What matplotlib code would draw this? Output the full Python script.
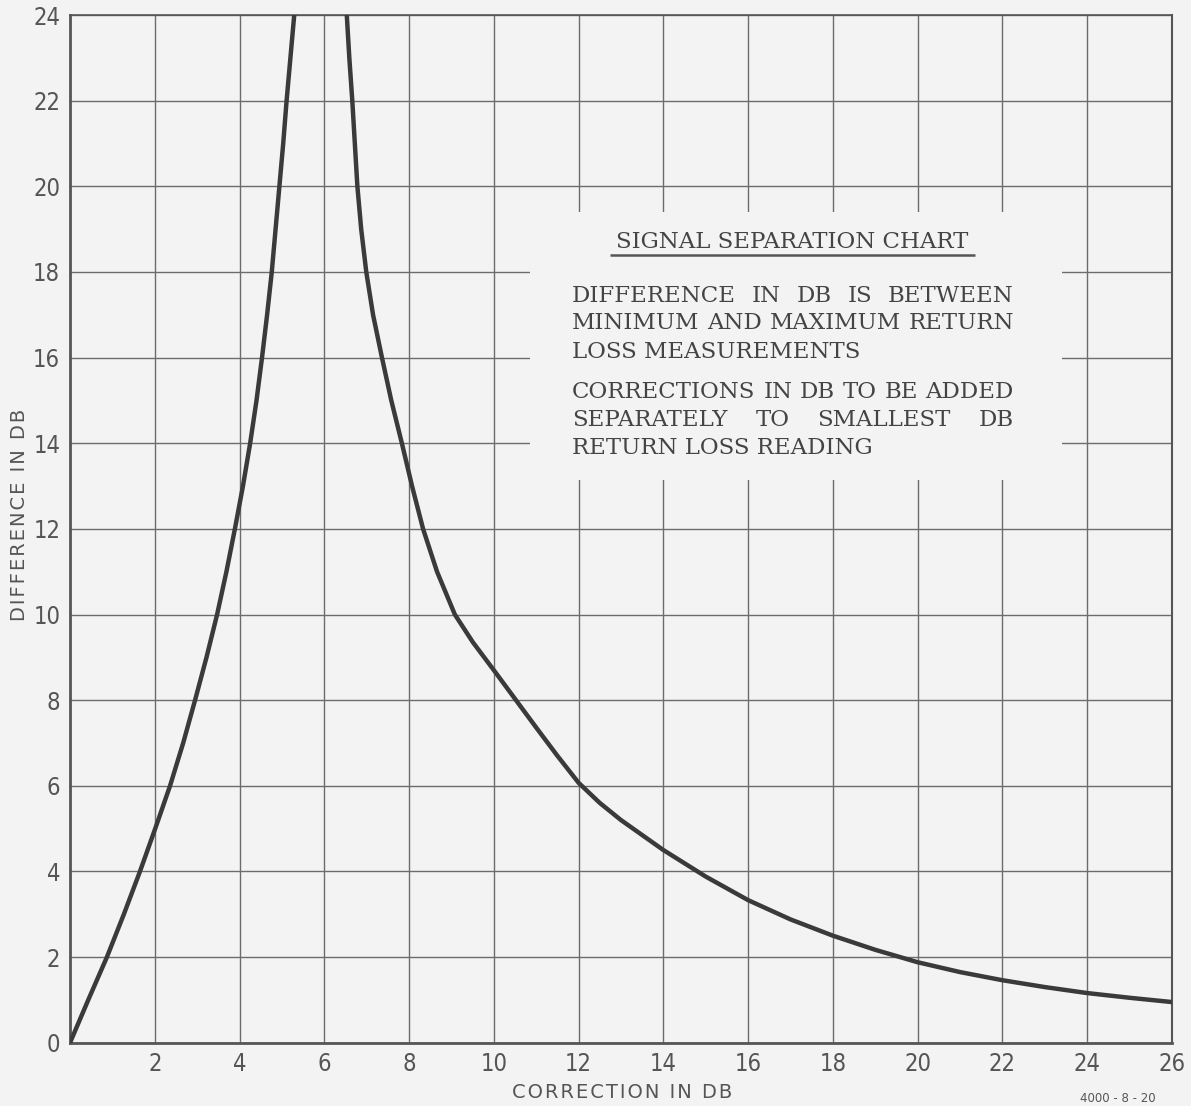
"""
Signal separation chart
Difference between min / max return loss vs correction in dB
"""

import matplotlib
matplotlib.use('Agg')
import matplotlib.pyplot as plt
from matplotlib.patches import Rectangle

# values (correction dB, difference dB)
larger_corr = [0.0, 0.43, 0.87, 1.27, 1.65, 2.01, 2.36, 2.67, 2.95, 3.22, 3.47, 3.69, 3.89,
               4.08, 4.25, 4.40, 4.53, 4.65, 4.76, 4.85, 4.94, 5.03, 5.11, 5.20, 5.29]
larger_diff = [0.0, 1.0, 2.0, 3.0, 4.0, 5.0, 6.0, 7.0, 8.0, 9.0, 10.0, 11.0, 12.0,
               13.0, 14.0, 15.0, 16.0, 17.0, 18.0, 19.0, 20.0, 21.0, 22.0, 23.0, 24.0]

smaller_corr = [6.53, 6.59, 6.66, 6.72, 6.78, 6.87, 6.99, 7.15, 7.36, 7.58, 7.83, 8.07, 8.33,
                8.66, 9.08, 9.5, 10.0, 10.5, 11.0, 11.5, 12.0, 12.5, 13.0, 14.0, 15.0, 16.0,
                17.0, 18.0, 19.0, 20.0, 21.0, 22.0, 23.0, 24.0, 25.0, 26.0]
smaller_diff = [24.0, 23.0, 22.0, 21.0, 20.0, 19.0, 18.0, 17.0, 16.0, 15.0, 14.0, 13.0, 12.0,
                11.0, 10.0, 9.36, 8.7, 8.03, 7.36, 6.7, 6.07, 5.6, 5.2, 4.5, 3.88, 3.33,
                2.88, 2.5, 2.17, 1.88, 1.65, 1.46, 1.3, 1.16, 1.05, 0.95]

x_ticks = list(range(2, 27, 2))
y_ticks = list(range(0, 25, 2))

title = 'SIGNAL SEPARATION CHART'
note_lines = [
    'DIFFERENCE IN DB IS BETWEEN',
    'MINIMUM AND MAXIMUM RETURN',
    'LOSS MEASUREMENTS',
    'CORRECTIONS IN DB TO BE ADDED',
    'SEPARATELY TO SMALLEST DB',
    'RETURN LOSS READING',
]
note_justify = [True, True, False, True, True, False]
note_y = [17.29, 16.66, 16.0, 15.05, 14.40, 13.76]

BG = '#f3f3f3'
INK = '#3a3a3a'
GRID = '#6c6c6c'
LABEL = '#555555'
NOTE_FONT = dict(fontsize=16.5, family='DejaVu Serif', color='#444444', zorder=4)


def spaced(s):
    # lettering on the original is widely tracked
    return '\u200a'.join(s)


fig = plt.figure(figsize=(11.91, 11.06), dpi=100, facecolor=BG)
ax = fig.add_axes([0.0588, 0.0572, 0.9252, 0.9292], facecolor=BG)

ax.set_xlim(0, 26)
ax.set_ylim(0, 24)
ax.set_xticks(x_ticks)
ax.set_yticks(y_ticks)
ax.tick_params(length=0, colors=LABEL, labelsize=17, pad=7)
for lbl in ax.get_xticklabels() + ax.get_yticklabels():
    lbl.set_family('DejaVu Sans')
    lbl.set_stretch('condensed')

ax.grid(True, color=GRID, linewidth=1.0)
ax.set_axisbelow(True)

for side, lw in [('left', 2.0), ('bottom', 2.0), ('top', 1.2), ('right', 1.5)]:
    ax.spines[side].set_linewidth(lw)
    ax.spines[side].set_color('#555555')

# curves
ax.plot(larger_corr, larger_diff, color=INK, linewidth=3.2, solid_joinstyle='round',
        solid_capstyle='round', zorder=3)
ax.plot(smaller_corr, smaller_diff, color=INK, linewidth=3.2, solid_joinstyle='round',
        solid_capstyle='round', zorder=3)

# blank panel behind the notes (grid is interrupted there)
ax.add_patch(Rectangle((10.85, 13.15), 23.4 - 10.85, 19.4 - 13.15,
                       facecolor=BG, edgecolor='none', zorder=2))

ax.text(17.05, 18.55, title, ha='center', va='baseline', fontsize=16.5,
        family='DejaVu Serif', color='#444444', zorder=4)
ax.hlines(18.40, 12.75, 21.35, color='#555555', linewidth=1.8, zorder=4)

# notes, justified between left and right margins like the original
x_left, x_right = 11.85, 22.27
renderer = fig.canvas.get_renderer()
inv = ax.transData.inverted()


def data_width(t):
    bb = t.get_window_extent(renderer)
    return inv.transform((bb.x1, 0))[0] - inv.transform((bb.x0, 0))[0]


probe = ax.text(0, 0, 'A A', **NOTE_FONT)
min_gap = data_width(probe)
probe.set_text('AA')
min_gap -= data_width(probe)
probe.remove()

for line, y, just in zip(note_lines, note_y, note_justify):
    if not just:
        ax.text(x_left, y, line, ha='left', va='baseline', **NOTE_FONT)
        continue
    words = [ax.text(x_left, y, w, ha='left', va='baseline', **NOTE_FONT)
             for w in line.split()]
    widths = [data_width(t) for t in words]
    gap = max(min_gap, (x_right - x_left - sum(widths)) / (len(words) - 1))
    pos = x_left
    for t, w in zip(words, widths):
        t.set_x(pos)
        pos += w + gap

# axis titles
fig.text(20 / 1191, 1 - 515 / 1106, spaced('DIFFERENCE IN DB'), rotation=90, ha='center',
         va='center', fontsize=14, color=LABEL)
fig.text(622 / 1191, 1 - 1093 / 1106, spaced('CORRECTION IN DB'), ha='center', va='center',
         fontsize=14, color=LABEL)
fig.text(1118 / 1191, 1 - 1098 / 1106, '4000 - 8 - 20', ha='center', va='center',
         fontsize=8.5, color=LABEL)

plt.savefig('out.png', dpi=100, facecolor=BG)
